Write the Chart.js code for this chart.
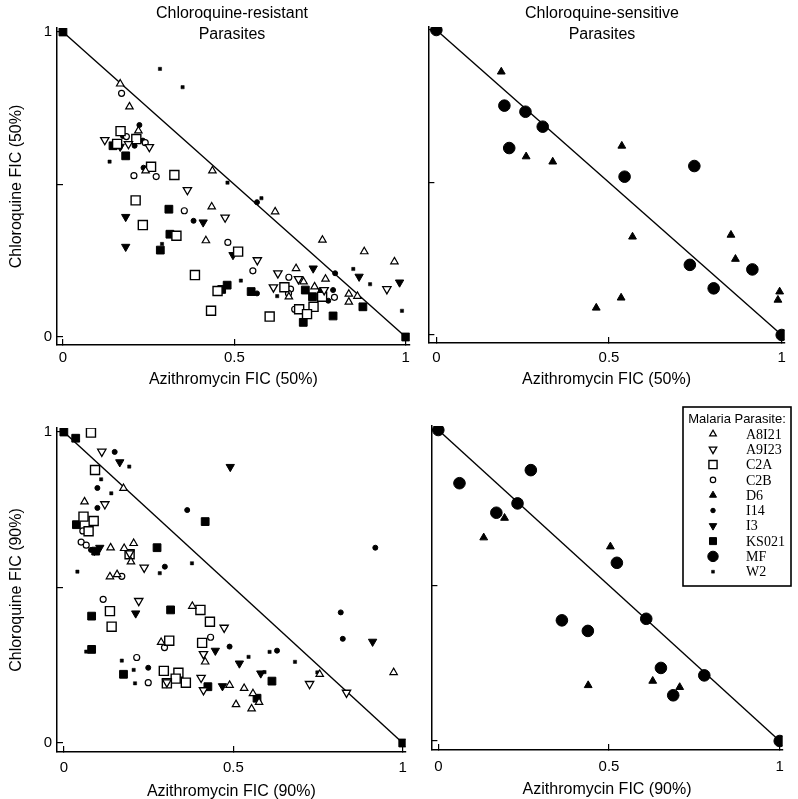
<!DOCTYPE html>
<html>
<head>
<meta charset="utf-8">
<script src="https://cdn.jsdelivr.net/npm/chart.js"></script>
<style>
  body { margin: 0; background: #fff; width: 798px; height: 799px; position: relative; overflow: hidden; }
  canvas { position: absolute; }
  .ttl { position: absolute; width: 240px; text-align: center; font: 16px/21px "Liberation Sans", Arial, sans-serif; color: #000; }
</style>
</head>
<body>
<canvas id="r50" width="420" height="400" style="left:0;top:0"></canvas>
<canvas id="s50" width="378" height="400" style="left:420px;top:0"></canvas>
<canvas id="r90" width="420" height="399" style="left:0;top:400px"></canvas>
<canvas id="s90" width="378" height="399" style="left:420px;top:400px"></canvas>
<div class="ttl" style="left:112px;top:2px">Chloroquine-resistant<br>Parasites</div>
<div class="ttl" style="left:482px;top:2px">Chloroquine-sensitive<br>Parasites</div>
<script>
// parasite strains (legend order)
const strains = ['A8I21', 'A9I23', 'C2A', 'C2B', 'D6', 'I14', 'I3', 'KS021', 'MF', 'W2'];

// axis ticks
const xTicks = [0, 0.5, 1];
const xTickLabels = ['0', '0.5', '1'];
const yTicks = [0, 0.5, 1];
const yTickLabels = ['0', '', '1'];

// additivity line
const lineX = [0, 1];
const lineY = [1, 0];

// ---- chloroquine-resistant, FIC 50%  [azithromycin, chloroquine]
const r50_A8I21 = [[0.167,0.830],[0.194,0.755],[0.220,0.676],[0.241,0.545],[0.436,0.545],[0.434,0.427],[0.417,0.316],[0.619,0.411],[0.757,0.318],[0.879,0.280],[0.967,0.247],[0.680,0.225],[0.702,0.181],[0.766,0.190],[0.734,0.165],[0.834,0.141],[0.859,0.134],[0.659,0.132],[0.834,0.115]];
const r50_A9I23 = [[0.122,0.646],[0.191,0.633],[0.252,0.623],[0.363,0.482],[0.473,0.392],[0.567,0.252],[0.627,0.209],[0.687,0.190],[0.945,0.157],[0.614,0.163],[0.762,0.154]];
const r50_C2A = [[0.168,0.675],[0.214,0.649],[0.158,0.633],[0.257,0.558],[0.325,0.531],[0.212,0.448],[0.233,0.367],[0.331,0.332],[0.385,0.203],[0.451,0.151],[0.432,0.086],[0.511,0.280],[0.646,0.163],[0.756,0.132],[0.689,0.091],[0.731,0.099],[0.712,0.075],[0.603,0.067]];
const r50_C2B = [[0.171,0.799],[0.185,0.657],[0.240,0.637],[0.207,0.529],[0.272,0.526],[0.354,0.414],[0.481,0.310],[0.554,0.217],[0.659,0.196],[0.664,0.157],[0.658,0.143],[0.792,0.130],[0.676,0.091]];
const r50_I14 = [[0.223,0.695],[0.175,0.659],[0.209,0.627],[0.233,0.644],[0.235,0.555],[0.381,0.381],[0.566,0.442],[0.794,0.209],[0.788,0.154],[0.566,0.143],[0.774,0.119]];
const r50_I3 = [[0.167,0.624],[0.183,0.394],[0.409,0.376],[0.183,0.296],[0.496,0.269],[0.730,0.225],[0.864,0.198],[0.982,0.179]];
const r50_KS021 = [[0,1],[0.146,0.627],[0.183,0.594],[0.309,0.419],[0.312,0.337],[0.284,0.285],[0.463,0.156],[0.479,0.170],[0.549,0.149],[0.707,0.154],[0.728,0.132],[0.757,0.147],[0.875,0.099],[0.788,0.069],[0.701,0.048],[1,0]];
const r50_W2 = [[0.283,0.879],[0.349,0.819],[0.136,0.575],[0.480,0.506],[0.289,0.305],[0.579,0.455],[0.519,0.185],[0.847,0.223],[0.896,0.173],[0.625,0.134],[0.989,0.086]];

// ---- chloroquine-sensitive, FIC 50%
const s50_D6 = [[0.188,0.863],[0.260,0.585],[0.337,0.568],[0.537,0.620],[0.568,0.322],[0.853,0.328],[0.866,0.249],[0.535,0.122],[0.463,0.089],[0.994,0.142],[0.989,0.115]];
const s50_MF = [[0,1],[0.197,0.752],[0.258,0.732],[0.308,0.683],[0.211,0.613],[0.545,0.519],[0.747,0.554],[0.734,0.230],[0.915,0.215],[0.803,0.153],[1,0]];

// ---- chloroquine-resistant, FIC 90%
const r90_A8I21 = [[0.176,0.819],[0.061,0.776],[0.138,0.628],[0.178,0.626],[0.206,0.642],[0.198,0.583],[0.136,0.535],[0.157,0.542],[0.379,0.440],[0.287,0.324],[0.417,0.261],[0.489,0.186],[0.755,0.221],[0.973,0.227],[0.532,0.176],[0.558,0.159],[0.576,0.131],[0.508,0.124],[0.554,0.110]];
const r90_A9I23 = [[0.112,0.937],[0.121,0.768],[0.194,0.610],[0.237,0.564],[0.221,0.457],[0.473,0.371],[0.412,0.286],[0.405,0.210],[0.412,0.170],[0.304,0.195],[0.725,0.190],[0.834,0.162]];
const r90_C2A = [[0.080,0.998],[0.092,0.878],[0.058,0.728],[0.088,0.714],[0.073,0.681],[0.194,0.607],[0.136,0.424],[0.403,0.428],[0.141,0.374],[0.431,0.390],[0.311,0.329],[0.408,0.322],[0.295,0.232],[0.338,0.226],[0.330,0.207],[0.304,0.192],[0.360,0.194]];
const r90_C2B = [[0.056,0.682],[0.051,0.646],[0.066,0.636],[0.171,0.536],[0.116,0.462],[0.297,0.307],[0.433,0.340],[0.215,0.275],[0.249,0.194]];
const r90_I14 = [[0.150,0.936],[0.099,0.820],[0.099,0.756],[0.364,0.749],[0.080,0.621],[0.298,0.567],[0.919,0.628],[0.489,0.310],[0.249,0.242],[0.817,0.420],[0.823,0.335],[0.629,0.297]];
const r90_I3 = [[0.165,0.903],[0.491,0.888],[0.090,0.618],[0.106,0.628],[0.212,0.417],[0.447,0.297],[0.468,0.183],[0.518,0.256],[0.911,0.326],[0.581,0.224]];
const r90_KS021 = [[0,1],[0.035,0.980],[0.417,0.712],[0.037,0.702],[0.094,0.617],[0.275,0.628],[0.082,0.408],[0.315,0.428],[0.082,0.301],[0.176,0.221],[0.425,0.181],[0.614,0.199],[0.570,0.144],[1,0]];
const r90_W2 = [[0.193,0.889],[0.110,0.848],[0.140,0.803],[0.378,0.578],[0.283,0.546],[0.040,0.551],[0.066,0.294],[0.171,0.265],[0.206,0.235],[0.210,0.192],[0.607,0.293],[0.545,0.277],[0.682,0.261],[0.748,0.227],[0.592,0.228]];

// ---- chloroquine-sensitive, FIC 90%
const s90_D6 = [[0.194,0.717],[0.133,0.654],[0.504,0.625],[0.439,0.179],[0.628,0.193],[0.707,0.173]];
const s90_MF = [[0,1],[0.062,0.829],[0.271,0.871],[0.232,0.764],[0.170,0.734],[0.523,0.573],[0.362,0.388],[0.438,0.354],[0.609,0.393],[0.652,0.235],[0.779,0.211],[0.688,0.147],[1,0]];

// marker look per strain
const markers = {
  A8I21: { shape: 'triangle', r: 4.3, rot: 0,   fill: false, bw: 1.2 },
  A9I23: { shape: 'triangle', r: 4.8, rot: 180, fill: false, bw: 1.3 },
  C2A:   { shape: 'rect',     r: 6.4, rot: 0,   fill: false, bw: 1.4 },
  C2B:   { shape: 'circle',   r: 3.0, rot: 0,   fill: false, bw: 1.2 },
  D6:    { shape: 'triangle', r: 4.5, rot: 0,   fill: true,  bw: 1 },
  I14:   { shape: 'circle',   r: 2.5, rot: 0,   fill: true,  bw: 1 },
  I3:    { shape: 'triangle', r: 4.8, rot: 180, fill: true,  bw: 1 },
  KS021: { shape: 'rect',     r: 5.5, rot: 0,   fill: true,  bw: 1 },
  MF:    { shape: 'circle',   r: 5.8, rot: 0,   fill: true,  bw: 1 },
  W2:    { shape: 'rect',     r: 2.3, rot: 0,   fill: true,  bw: 0.5 }
};

const sans = '"Liberation Sans", Arial, sans-serif';
const serif = '"Liberation Serif", "Times New Roman", serif';

// legend box in the lower right panel
const legendBox = {
  id: 'legendBox',
  afterDraw(chart) {
    const ctx = chart.ctx;
    ctx.save();
    ctx.strokeStyle = '#000';
    ctx.lineWidth = 1.6;
    ctx.strokeRect(263, 7, 108, 179);
    ctx.fillStyle = '#000';
    ctx.font = '13px ' + sans;
    ctx.textAlign = 'center';
    ctx.textBaseline = 'middle';
    ctx.fillText('Malaria Parasite:', 317, 19);
    ctx.font = '14px ' + serif;
    ctx.textAlign = 'left';
    strains.forEach((s, i) => {
      const m = markers[s];
      const y = 34 + i * 15.3;
      ctx.fillStyle = m.fill ? '#000' : '#fff';
      ctx.strokeStyle = '#000';
      ctx.lineWidth = m.bw;
      Chart.helpers.drawPoint(ctx, { pointStyle: m.shape, radius: m.r * 0.9, rotation: m.rot, borderWidth: m.bw }, 293, y);
      ctx.fillStyle = '#000';
      ctx.fillText(s, 326, y + 1);
    });
    ctx.restore();
  }
};

function panel(id, sets, c) {
  const datasets = strains.map(s => {
    const m = markers[s];
    return {
      label: s,
      data: (sets[s] || []).map(p => ({ x: p[0], y: p[1] })),
      pointStyle: m.shape,
      pointRadius: m.r,
      pointHoverRadius: m.r,
      pointRotation: m.rot,
      pointBackgroundColor: m.fill ? '#000' : '#fff',
      pointBorderColor: '#000',
      pointBorderWidth: m.bw,
      order: 0
    };
  });
  datasets.push({
    label: 'line',
    data: lineX.map((x, i) => ({ x: x, y: lineY[i] })),
    showLine: true,
    borderColor: '#000',
    borderWidth: 1.4,
    pointRadius: 0,
    order: 1
  });

  return new Chart(document.getElementById(id), {
    type: 'scatter',
    data: { datasets: datasets },
    plugins: c.legend ? [legendBox] : [],
    options: {
      responsive: false,
      animation: false,
      devicePixelRatio: 1,
      events: [],
      layout: { padding: { left: 0, top: c.padT, right: c.padR, bottom: 0 } },
      plugins: { legend: { display: false }, tooltip: { enabled: false } },
      scales: {
        x: {
          type: 'linear', min: c.xmin, max: c.xmax,
          afterBuildTicks: s => { s.ticks = xTicks.map(v => ({ value: v })); },
          afterFit: s => { s.height = c.xh; },
          border: { display: true, color: '#000', width: 1.5 },
          grid: { drawOnChartArea: false, tickLength: -6, color: '#000', lineWidth: 1.2 },
          ticks: {
            padding: c.xpad, color: '#000', maxRotation: 0, font: { family: sans, size: 15 },
            callback: v => xTickLabels[xTicks.indexOf(v)]
          },
          title: {
            display: true, text: c.xtitle, color: '#000',
            font: { family: sans, size: 16, lineHeight: c.xtlh },
            padding: { top: 0, bottom: c.xtpad }
          }
        },
        y: {
          type: 'linear', min: c.ymin, max: c.ymax,
          afterBuildTicks: s => { s.ticks = yTicks.map(v => ({ value: v })); },
          afterFit: s => { s.width = c.yw; },
          border: { display: true, color: '#000', width: 1.5 },
          grid: { drawOnChartArea: false, tickLength: -6, color: '#000', lineWidth: 1.2 },
          ticks: {
            display: !!c.ytitle, padding: 11, color: '#000', font: { family: sans, size: 15 },
            callback: v => yTickLabels[yTicks.indexOf(v)]
          },
          title: {
            display: !!c.ytitle, text: c.ytitle || '', color: '#000',
            font: { family: sans, size: 16, lineHeight: 1.2 },
            padding: { top: 7, bottom: 0 }
          }
        }
      }
    }
  });
}

panel('r50', { A8I21: r50_A8I21, A9I23: r50_A9I23, C2A: r50_C2A, C2B: r50_C2B, I14: r50_I14, I3: r50_I3, KS021: r50_KS021, W2: r50_W2 }, {
  padT: 28, padR: 8, yw: 57, xh: 55, xmin: -0.0174, xmax: 1.0116, ymin: -0.0262, ymax: 1.0131,
  xpad: 10, xtpad: 11, xtlh: 1.2, xtitle: 'Azithromycin FIC (50%)', ytitle: 'Chloroquine FIC (50%)'
});
panel('s50', { D6: s50_D6, MF: s50_MF }, {
  padT: 27, padR: 13, yw: 8, xh: 57, xmin: -0.0231, xmax: 1.0087, ymin: -0.0262, ymax: 1.0098,
  xpad: 12, xtpad: 11, xtlh: 1.2, xtitle: 'Azithromycin FIC (50%)'
});
panel('r90', { A8I21: r90_A8I21, A9I23: r90_A9I23, C2A: r90_C2A, C2B: r90_C2B, I14: r90_I14, I3: r90_I3, KS021: r90_KS021, W2: r90_W2 }, {
  padT: 28, padR: 7, yw: 57, xh: 47, xmin: -0.0202, xmax: 1.0087, ymin: -0.0289, ymax: 1.0129,
  xpad: 13, xtpad: -1, xtlh: 1, xtitle: 'Azithromycin FIC (90%)', ytitle: 'Chloroquine FIC (90%)'
});
panel('s90', { D6: s90_D6, MF: s90_MF }, {
  padT: 26, padR: 11, yw: 11, xh: 49, xmin: -0.0202, xmax: 1.0087, ymin: -0.0289, ymax: 1.0129,
  xpad: 14, xtpad: 1, xtlh: 1, xtitle: 'Azithromycin FIC (90%)', legend: true
});
</script>
</body>
</html>
